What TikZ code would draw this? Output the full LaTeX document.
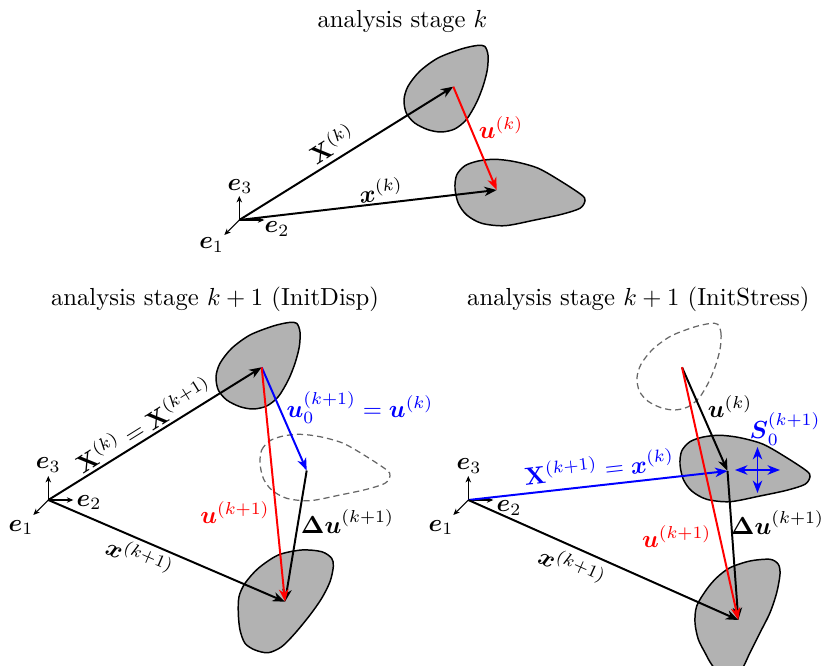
\documentclass[tikz,border=0pt]{standalone}
\usepackage{amsmath}
\usetikzlibrary{arrows.meta,calc}
\begin{document}
\begin{tikzpicture}[x=0.405pt,y=-0.405pt,
  vec/.style={line width=0.8pt,-{Stealth[length=5pt,width=3.8pt,inset=1.5pt]}},
  dvec/.style={line width=0.8pt,{Stealth[length=5pt,width=3.8pt,inset=1.5pt]}-{Stealth[length=5pt,width=3.8pt,inset=1.5pt]}},
  evec/.style={line width=0.45pt,-{Stealth[length=2.6pt,width=2.2pt,inset=0.8pt]}},
  blob/.style={draw=black,line width=0.6pt,fill=black!30},
  ghost/.style={draw=black!60,line width=0.5pt,dash pattern=on 2.5pt off 1.6pt},
  lbl/.style={inner sep=0pt},
  ttl/.style={inner sep=0pt}]
\useasboundingbox (0,0) rectangle (823,666);
\clip (0,0) rectangle (823,666);

% ---------------- titles
\node[ttl] (t1) at (402.5,21) {analysis stage $k$};
\node[ttl] (t2) at (215,299) {analysis stage $k+1$ (InitDisp)};
\node[ttl] (t3) at (638.3,299) {analysis stage $k+1$ (InitStress)};

% ---------------- bodies, top panel
\begin{scope}[shift={(188,-277)}]
\draw[blob] plot[smooth cycle] coordinates {(296.7,323.3) (300,332) (299.3,346.7) (295,363.3) (288.3,380) (278.3,396.7) (266.7,406) (253.3,409) (240,406.7) (226.7,400) (218.3,390) (216,376.7) (220,363.3) (231.7,348.3) (250,335) (273.3,326) (289,322.5)};
\end{scope}
\begin{scope}[shift={(195,-275)}]
\draw[blob] plot[smooth cycle] coordinates {(260,463.3) (261.7,450) (270,440.7) (283.3,436) (300,434.3) (320,436.7) (343.3,443.3) (366.7,456.7) (386.7,470) (390,475.7) (385,483.3) (366.7,489.3) (340,495) (310,500.7) (286.7,498.3) (271.7,490) (263.3,478.3)};
\end{scope}

% ---------------- bodies, bottom-left panel
\draw[blob] plot[smooth cycle] coordinates {(296.7,323.3) (300,332) (299.3,346.7) (295,363.3) (288.3,380) (278.3,396.7) (266.7,406) (253.3,409) (240,406.7) (226.7,400) (218.3,390) (216,376.7) (220,363.3) (231.7,348.3) (250,335) (273.3,326) (289,322.5)};
\draw[ghost] plot[smooth cycle] coordinates {(260,463.3) (261.7,450) (270,440.7) (283.3,436) (300,434.3) (320,436.7) (343.3,443.3) (366.7,456.7) (386.7,470) (390,475.7) (385,483.3) (366.7,489.3) (340,495) (310,500.7) (286.7,498.3) (271.7,490) (263.3,478.3)};
\draw[blob] plot[smooth cycle] coordinates {(278.3,555) (301.7,550) (321.7,551.7) (331.7,558.3) (333.3,566.7) (330,581.7) (321.7,598.3) (310,615) (295,633.3) (281.7,646.7) (268.3,652.7) (255,650) (245,643.3) (240,630) (238.3,613.3) (239,596.7) (245,583.3) (258.3,568.3)};

% ---------------- bodies, bottom-right panel
\begin{scope}[shift={(421,1)}]
\draw[ghost] plot[smooth cycle] coordinates {(296.7,323.3) (300,332) (299.3,346.7) (295,363.3) (288.3,380) (278.3,396.7) (266.7,406) (253.3,409) (240,406.7) (226.7,400) (218.3,390) (216,376.7) (220,363.3) (231.7,348.3) (250,335) (273.3,326) (289,322.5)};
\end{scope}
\begin{scope}[shift={(420,1)}]
\draw[blob] plot[smooth cycle] coordinates {(260,463.3) (261.7,450) (270,440.7) (283.3,436) (300,434.3) (320,436.7) (343.3,443.3) (366.7,456.7) (386.7,470) (390,475.7) (385,483.3) (366.7,489.3) (340,495) (310,500.7) (286.7,498.3) (271.7,490) (263.3,478.3)};
\end{scope}
\draw[blob] plot[smooth cycle] coordinates {(730,567.7) (750,561) (770,559.3) (778.3,564.3) (780,574.3) (776.7,592.7) (770,612.7) (760,632.7) (750,652.7) (740,672) (725,680) (712,665) (705,652.7) (698.3,639.3) (695,622.7) (696.7,606) (706.7,589.3) (716.7,577.7)};

% ---------------- points
\coordinate (O1) at (239.3,220);
\coordinate (A1) at (453.3,86.7);
\coordinate (B1) at (496.7,190);
\coordinate (O2) at (48.3,500);
\coordinate (C2) at (261.7,367.3);
\coordinate (D2) at (306.7,470.5);
\coordinate (E2) at (285,601.7);
\coordinate (O3) at (468.3,500);
\coordinate (F3) at (682,367.3);
\coordinate (G3) at (727.5,471);
\coordinate (H3) at (738.3,620);
\coordinate (Sw) at (735,470);
\coordinate (Se) at (780,470);
\coordinate (Sn) at (757.5,447);
\coordinate (Ss) at (757.5,493);
\foreach \o in {O1,O2,O3}{
  \coordinate (\o e1) at ($(\o)+(-15,15)$);
  \coordinate (\o e2) at ($(\o)+(25,0)$);
  \coordinate (\o e3) at ($(\o)+(0,-24)$);
}

% ---------------- base vectors
\foreach \o in {O1,O2,O3}{
  \draw[evec] (\o) -- (\o e1);
  \draw[evec] (\o) -- (\o e2);
  \draw[evec] (\o) -- (\o e3);
}
\node[lbl] (e31) at (240,186.5) {$\boldsymbol{e}_3$};
\node[lbl] (e21) at (277,229) {$\boldsymbol{e}_2$};
\node[lbl] (e11) at (211.7,245) {$\boldsymbol{e}_1$};
\node[lbl] (e32) at (48.3,465) {$\boldsymbol{e}_3$};
\node[lbl] (e22) at (89,502.5) {$\boldsymbol{e}_2$};
\node[lbl] (e12) at (21,527.5) {$\boldsymbol{e}_1$};
\node[lbl] (e33) at (469,466) {$\boldsymbol{e}_3$};
\node[lbl] (e23) at (509,508.3) {$\boldsymbol{e}_2$};
\node[lbl] (e13) at (441,527.5) {$\boldsymbol{e}_1$};

% ---------------- top panel vectors
\draw[vec] (O1) -- (A1);
\draw[vec] (O1) -- (B1);
\draw[vec,red] (A1) -- (B1);
\node[lbl,rotate=31.9] (lX1) at (331.7,143.3) {$\mathbf{X}^{(k)}$};
\node[lbl,rotate=6.6] (lx1) at (381,190) {$\boldsymbol{x}^{(k)}$};
\node[lbl,text=red] (lu1) at (501,127.5) {$\boldsymbol{u}^{(k)}$};

% ---------------- bottom-left panel vectors
\draw[vec] (O2) -- (C2);
\draw[vec] (O2) -- (E2);
\draw[vec,blue] (C2) -- (D2);
\draw[vec] (D2) -- (E2);
\draw[vec,red] (C2) -- (E2);
\node[lbl,rotate=31.9] (lX2) at (143.3,424) {$\mathbf{X}^{(k)}=\mathbf{X}^{(k+1)}$};
\node[lbl,rotate=-23.3] (lx2) at (140,556.7) {$\boldsymbol{x}^{(k+1)}$};
\node[lbl,text=blue] (lu02) at (360,407.5) {$\boldsymbol{u}_0^{(k+1)}=\boldsymbol{u}^{(k)}$};
\node[lbl,text=red] (lu2) at (235,512.5) {$\boldsymbol{u}^{(k+1)}$};
\node[lbl] (ldu2) at (347.5,521.7) {$\boldsymbol{\Delta u}^{(k+1)}$};

% ---------------- bottom-right panel vectors
\draw[vec,blue] (O3) -- (G3);
\draw[vec] (O3) -- (H3);
\draw[vec] (F3) -- (G3);
\draw[vec] (G3) -- (H3);
\draw[vec,red] (F3) -- (H3);
\draw[dvec,blue] (Sw) -- (Se);
\draw[dvec,blue] (Sn) -- (Ss);
\node[lbl,rotate=6.4,text=blue] (lX3) at (599,466.7) {$\mathbf{X}^{(k+1)}=\boldsymbol{x}^{(k)}$};
\node[lbl,rotate=-24] (lx3) at (572.5,566) {$\boldsymbol{x}^{(k+1)}$};
\node[lbl] (lu3) at (730,406.7) {$\boldsymbol{u}^{(k)}$};
\node[lbl,text=blue] (lS3) at (785,429) {$\boldsymbol{S}_0^{(k+1)}$};
\node[lbl,text=red] (luu3) at (676.7,536.7) {$\boldsymbol{u}^{(k+1)}$};
\node[lbl] (ldu3) at (777.5,522.5) {$\boldsymbol{\Delta u}^{(k+1)}$};
\end{tikzpicture}
\end{document}
